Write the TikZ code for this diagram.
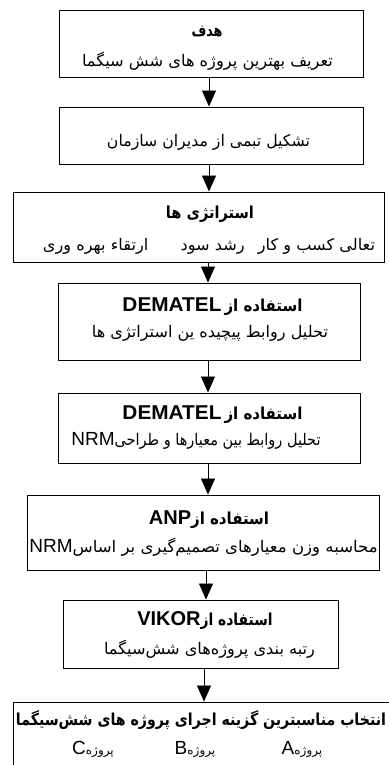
\documentclass[tikz,border=0pt]{standalone}
\usepackage{graphicx}
\usepackage{fontspec}
\setmainfont{Liberation Sans}
\newfontfamily\fa[Script=Arabic]{DejaVu Sans}
\TeXXeTstate=1
\usetikzlibrary{arrows.meta}
\tikzset{
  boxx/.style={draw, line width=0.9pt, inner sep=0pt},
  txt/.style={inner sep=0pt, anchor=center},
  arr/.style={line width=0.8pt, -{Triangle[length=16pt,width=14pt]}},
}
\newcommand{\ttl}[1]{{\fa\bfseries\fontsize{16.5}{18}\selectfont\beginR #1\endR}}
\newcommand{\sub}[1]{{\fa\fontsize{16}{18}\selectfont\beginR #1\endR}}
\newcommand{\subs}[1]{{\fa\fontsize{12}{14}\selectfont\beginR #1\endR}}
\newcommand{\lat}[1]{{\bfseries\fontsize{20}{22}\selectfont #1}}
\newcommand{\latn}[1]{{\fontsize{19}{21}\selectfont #1}}
\newcommand{\fitw}[2]{\resizebox{#1pt}{\height}{#2}}
\begin{document}
\begin{tikzpicture}[x=1pt,y=-1pt]
\useasboundingbox (0,0) rectangle (388,765);
% boxes
\node[boxx, minimum width=304, minimum height=67] (b1) at (211,43.5) {};
\node[boxx, minimum width=304, minimum height=57] (b2) at (211,135.5) {};
\node[boxx, minimum width=371, minimum height=70] (b3) at (198.5,227) {};
\node[boxx, minimum width=302, minimum height=77] (b4) at (209,321.5) {};
\node[boxx, minimum width=302, minimum height=70] (b5) at (209,428) {};
\node[boxx, minimum width=352, minimum height=75] (b6) at (203,532.5) {};
\node[boxx, minimum width=275, minimum height=68] (b7) at (200.5,634) {};
\node[boxx, minimum width=400, minimum height=90] (b8) at (213,747) {};
% texts (mixed lines written in visual order, left to right)
\node[txt] (t1) at (207,32) {\fitw{31}{\ttl{هدف}}};
\node[txt] (s1) at (207.5,61) {\fitw{251}{\sub{تعریف بهترین پروژه های شش سیگما}}};
\node[txt] (s2) at (208.5,142) {\fitw{203}{\sub{تشکیل تبمی از مدیران سازمان}}};
\node[txt] (t3) at (210,214) {\fitw{88}{\ttl{استراتژی ها}}};
\node[txt] (s3) at (209,246) {\fitw{332}{\sub{تعالی کسب و کار\enspace\ رشد سود\qquad ارتقاء بهره وری}}};
\node[txt] (t4) at (212.5,307) {\fitw{99}{\lat{DEMATEL}}\hspace{3pt}\fitw{78}{\ttl{استفاده از}}};
\node[txt] (s4) at (210,333) {\fitw{236}{\sub{تحلیل روابط پیچیده ین استراتژی ها}}};
\node[txt] (t5) at (212.5,415) {\fitw{99}{\lat{DEMATEL}}\hspace{3pt}\fitw{78}{\ttl{استفاده از}}};
\node[txt] (s5) at (196,441) {\latn{NRM}\fitw{206}{\sub{تحلیل روابط بین معیارها و طراحی}}};
\node[txt] (t6) at (209,520) {\lat{ANP}\fitw{78}{\ttl{استفاده از}}};
\node[txt] (s6) at (203.5,547) {\latn{NRM}\fitw{305}{\sub{محاسبه وزن معیارهای تصمیم‌گیری بر اساس}}};
\node[txt] (t7) at (205,621) {\lat{VIKOR}\fitw{72}{\ttl{استفاده از}}};
\node[txt] (s7) at (209.5,649) {\fitw{211}{\sub{رتبه بندی پروژه‌های شش‌سیگما}}};
\node[txt] (t8) at (201,720) {\fitw{370}{\ttl{انتخاب مناسبترین گزینه اجرای پروژه های شش‌سیگما}}};
\node[txt] (pa) at (302,749) {\latn{A}\subs{پروژه}};
\node[txt] (pb) at (195,749) {\latn{B}\subs{پروژه}};
\node[txt] (pc) at (93,749) {\latn{C}\subs{پروژه}};
% arrow axis
\coordinate (a1) at (209,0);
\coordinate (a2) at (208,0);
\coordinate (a3) at (206,0);
\coordinate (a4) at (204,0);
\draw[arr] (b1.south -| a1) -- (b2.north -| a1);
\draw[arr] (b2.south -| a1) -- (b3.north -| a1);
\draw[arr] (b3.south -| a2) -- (b4.north -| a2);
\draw[arr] (b4.south -| a2) -- (b5.north -| a2);
\draw[arr] (b5.south -| a2) -- (b6.north -| a2);
\draw[arr] (b6.south -| a3) -- (b7.north -| a3);
\draw[arr] (b7.south -| a4) -- (b8.north -| a4);
\end{tikzpicture}
\end{document}
